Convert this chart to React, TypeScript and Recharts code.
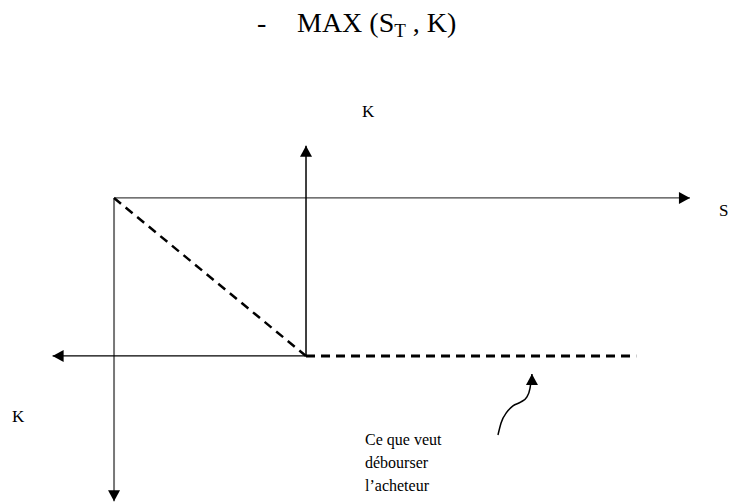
import { ComposedChart, Line, XAxis, YAxis } from "recharts";

// S on the horizontal axis, payoff on the vertical one, K = 100
const K = 100;

// each segment ends at its arrow tip (if it has one)
const sAxis = [
  { x: 0, y: 0 },
  { x: 300, y: 0 },
];
const payoffAxis = [
  { x: 0, y: 0 },
  { x: 0, y: -192 },
];
const strikeUp = [
  { x: K, y: -K },
  { x: K, y: 33 },
];
const strikeLeft = [
  { x: K, y: -K },
  { x: -32, y: -K },
];
const buyerPays = [
  { x: K, y: -K },
  { x: 272, y: -K },
];
const diagonal = [
  { x: 0, y: 0 },
  { x: K, y: -K },
];
const pointer = [
  { x: 200, y: -150 },
  { x: 201.6, y: -142.4 },
  { x: 204.7, y: -135.4 },
  { x: 207.8, y: -131.6 },
  { x: 212, y: -129.1 },
  { x: 215.1, y: -125.9 },
  { x: 216.7, y: -120.3 },
  { x: 217.7, y: -111.4 },
];

const arrowDot = (dir: string, last: number) => (props: any) => {
  const { cx, cy, index } = props;
  if (index !== last || cx == null || cy == null) return <g key={`d${index}`} />;
  const L = 11;
  const W = 6;
  let pts = "";
  if (dir === "right") pts = `${cx},${cy} ${cx - L},${cy - W} ${cx - L},${cy + W}`;
  if (dir === "left") pts = `${cx},${cy} ${cx + L},${cy - W} ${cx + L},${cy + W}`;
  if (dir === "up") pts = `${cx},${cy} ${cx - W},${cy + L} ${cx + W},${cy + L}`;
  if (dir === "down") pts = `${cx},${cy} ${cx - W},${cy - L} ${cx + W},${cy - L}`;
  return <polygon key={`d${index}`} points={pts} fill="#000" stroke="none" />;
};

const serif = "'Liberation Serif', 'Times New Roman', serif";

export default function App() {
  return (
    <div style={{ position: "absolute", left: 0, top: 0, width: 732, height: 504, background: "#fff" }}>
      <ComposedChart width={732} height={504} margin={{ top: 0, right: 0, bottom: 0, left: 0 }}>
        <XAxis type="number" dataKey="x" domain={[-59.4, 321.9]} allowDataOverflow hide />
        <YAxis type="number" domain={[-193.7, 125.3]} allowDataOverflow hide />
        <Line
          data={sAxis}
          dataKey="y"
          stroke="#444"
          strokeWidth={1.3}
          dot={arrowDot("right", sAxis.length - 1)}
          activeDot={false}
          isAnimationActive={false}
        />
        <Line
          data={payoffAxis}
          dataKey="y"
          stroke="#777"
          strokeWidth={2}
          dot={arrowDot("down", payoffAxis.length - 1)}
          activeDot={false}
          isAnimationActive={false}
        />
        <Line
          data={strikeUp}
          dataKey="y"
          stroke="#000"
          strokeWidth={1.5}
          dot={arrowDot("up", strikeUp.length - 1)}
          activeDot={false}
          isAnimationActive={false}
        />
        <Line
          data={strikeLeft}
          dataKey="y"
          stroke="#000"
          strokeWidth={1.2}
          dot={arrowDot("left", strikeLeft.length - 1)}
          activeDot={false}
          isAnimationActive={false}
        />
        <Line
          data={buyerPays}
          dataKey="y"
          stroke="#000"
          strokeWidth={3}
          strokeDasharray="9 6"
          dot={false}
          activeDot={false}
          isAnimationActive={false}
        />
        <Line
          data={diagonal}
          dataKey="y"
          stroke="#000"
          strokeWidth={2.5}
          strokeDasharray="9 6"
          dot={false}
          activeDot={false}
          isAnimationActive={false}
        />
        <Line
          data={pointer}
          dataKey="y"
          type="monotone"
          stroke="#000"
          strokeWidth={1.5}
          dot={arrowDot("up", pointer.length - 1)}
          activeDot={false}
          isAnimationActive={false}
        />
      </ComposedChart>
      <svg
        width={732}
        height={504}
        style={{ position: "absolute", left: 0, top: 0, pointerEvents: "none" }}
        fontFamily={serif}
        fill="#000"
      >
        <text x={257} y={32} fontSize={28}>-</text>
        <text x={297} y={32} fontSize={28}>
          MAX (S
          <tspan fontSize={19} dy={5}>T</tspan>
          <tspan dy={-5}> , K)</tspan>
        </text>
        <text x={362} y={117} fontSize={17}>K</text>
        <text x={719} y={216} fontSize={17}>S</text>
        <text x={12} y={422} fontSize={17}>K</text>
        <text x={365} y={445} fontSize={16}>Ce que veut</text>
        <text x={365} y={468} fontSize={16}>débourser</text>
        <text x={365} y={491} fontSize={16}>l’acheteur</text>
      </svg>
    </div>
  );
}
